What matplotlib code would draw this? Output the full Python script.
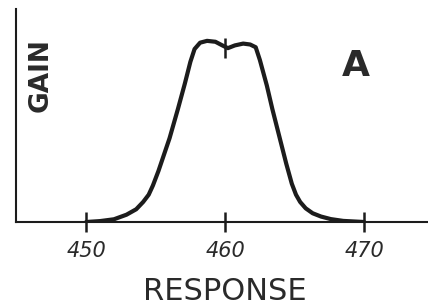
#!/usr/bin/env python3
"""Gain vs response curve, hand-drawn style band-pass shape."""

import matplotlib
matplotlib.use("Agg")
import matplotlib.pyplot as plt

# ---------------------------- data ----------------------------
response = [450.0, 451.0, 452.0, 452.9, 453.6, 454.1, 454.5, 454.8, 455.2, 455.6,
            456.0, 456.6, 457.1, 457.5, 457.8, 458.2, 458.7, 459.3, 459.8, 460.2,
            460.7, 461.3, 461.8, 462.2, 462.5, 463.0, 463.4, 463.9, 464.4, 464.8,
            465.1, 465.4, 465.8, 466.3, 466.9, 467.6, 468.5, 470.0]
gain = [0.0, 0.005, 0.015, 0.04, 0.07, 0.11, 0.15, 0.20, 0.28, 0.37,
        0.46, 0.62, 0.76, 0.88, 0.95, 0.985, 0.995, 0.99, 0.97, 0.955,
        0.97, 0.98, 0.975, 0.96, 0.89, 0.75, 0.62, 0.47, 0.32, 0.21,
        0.15, 0.11, 0.075, 0.048, 0.03, 0.016, 0.006, 0.0]
xticks = [450, 460, 470]
marker_x = [460]
marker_y = [0.955]

INK = "#1c1c1c"

fig = plt.figure(figsize=(4.28, 3.04), dpi=100)
ax = fig.add_axes([16 / 428, 82 / 304, 1 - 16 / 428, 213 / 304])

ax.plot(response, gain, color=INK, lw=3.0, solid_capstyle="round",
        solid_joinstyle="round")
ax.plot(marker_x, marker_y, marker="|", color=INK, ms=14, mew=1.8)

ax.set_xlim(444.95, 474.6)
ax.set_ylim(0, 1.17)

for side in ("top", "right"):
    ax.spines[side].set_visible(False)
for side in ("left", "bottom"):
    ax.spines[side].set_linewidth(1.5)
    ax.spines[side].set_color(INK)

ax.set_yticks([])
ax.set_xticks(xticks)
ax.set_xticklabels([str(t) for t in xticks], fontsize=15, style="italic",
                   color="#2a2a2a")
ax.tick_params(axis="x", direction="inout", length=15, width=1.8, color=INK,
               pad=6)

fig.text(225 / 428, 1 - 291 / 304, "RESPONSE", fontsize=22, color="#2a2a2a",
         ha="center", va="center")
fig.text(41 / 428, 1 - 75 / 304, "GAIN", fontsize=19, fontweight="bold",
         color="#2a2a2a", rotation=90, ha="center", va="center")
fig.text(356 / 428, 1 - 66 / 304, "A", fontsize=26, fontweight="bold",
         color="#2a2a2a", ha="center", va="center")

fig.savefig("out.png", dpi=100)
